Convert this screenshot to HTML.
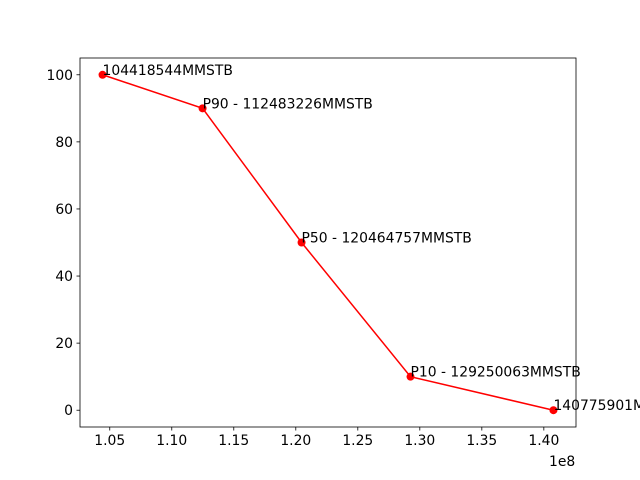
<!DOCTYPE html>
<html><head><meta charset="utf-8"><style>
body{margin:0;background:#fff;overflow:hidden}
svg{display:block;font-family:"DejaVu Sans","Liberation Sans",sans-serif}
</style></head><body>
<svg id="c" width="640" height="480">
<rect x="0" y="0" width="640" height="480" fill="#fff"/>
<g id="g"></g>
</svg>
<script>
const xValues=[104418544,112483226,120464757,129250063,140775901];
const yValues=[100,90,50,10,0];
const labels=["104418544MMSTB","P90 - 112483226MMSTB","P50 - 120464757MMSTB","P10 - 129250063MMSTB","140775901MMSTB"];
const xTicks=[1.05e8,1.10e8,1.15e8,1.20e8,1.25e8,1.30e8,1.35e8,1.40e8];
const xTickLabels=["1.05","1.10","1.15","1.20","1.25","1.30","1.35","1.40"];
const yTicks=[0,20,40,60,80,100];
const L=80,R=576,T=58,B=427;
const FS=13.9;
const xmin0=Math.min(...xValues),xmax0=Math.max(...xValues),xm=(xmax0-xmin0)*0.05;
const xmin=xmin0-xm,xmax=xmax0+xm;
const ymin0=Math.min(...yValues),ymax0=Math.max(...yValues),ym=(ymax0-ymin0)*0.05;
const ymin=ymin0-ym,ymax=ymax0+ym;
const X=v=>L+(v-xmin)/(xmax-xmin)*(R-L);
const Y=v=>B-(v-ymin)/(ymax-ymin)*(B-T);
const g=document.getElementById('g');const NS='http://www.w3.org/2000/svg';
function mk(t,a,p){const e=document.createElementNS(NS,t);for(const k in a)e.setAttribute(k,a[k]);(p||g).appendChild(e);return e;}
let e;
xTicks.forEach((v,i)=>{
 e=mk('line',{x1:X(v),x2:X(v),y1:B,y2:B+3.5,stroke:'#000','stroke-width':0.8});
 
 
 e=mk('text',{x:X(v),y:B+18,'font-size':FS,'text-anchor':'middle'});e.textContent=xTickLabels[i];
 
 
});
yTicks.forEach(v=>{
 e=mk('line',{x1:L-3.5,x2:L,y1:Y(v),y2:Y(v),stroke:'#000','stroke-width':0.8});
 
 
 e=mk('text',{x:L-7,y:Y(v)+5,'font-size':FS,'text-anchor':'end'});e.textContent=String(v);
 
 
});
e=mk('text',{x:R-27,y:B+39,'font-size':FS});e.textContent='1e8';


e=mk('polyline',{points:xValues.map((v,i)=>X(v)+','+Y(yValues[i])).join(' '),fill:'none',stroke:'#ff0000','stroke-width':1.5});


xValues.forEach((v,i)=>{
 e=mk('circle',{cx:X(v),cy:Y(yValues[i]),r:4,fill:'#ff0000'});
 
 
 e=mk('text',{x:X(v),y:Y(yValues[i]),'font-size':FS});e.textContent=labels[i];
 
 
});
e=mk('rect',{x:L,y:T,width:R-L,height:B-T,fill:'none',stroke:'#000','stroke-width':0.8});


</script>
</body></html>
